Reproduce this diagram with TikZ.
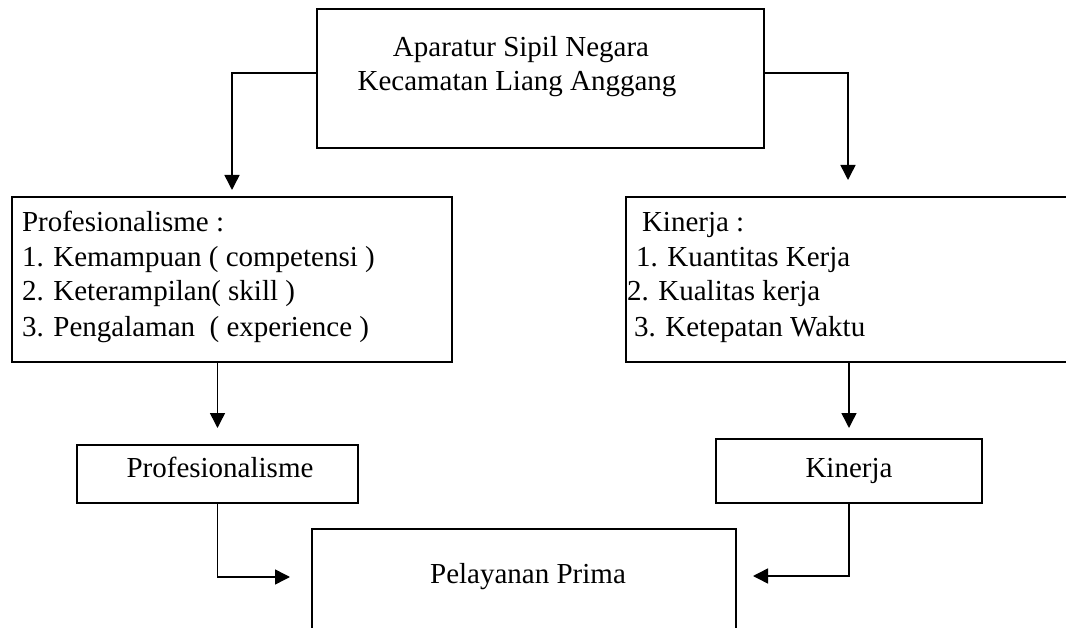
\documentclass[tikz,border=0pt]{standalone}
\usepackage{fontspec}
\setmainfont{Liberation Serif}
\usetikzlibrary{arrows.meta}
\begin{document}
\begin{tikzpicture}[x=1pt,y=-1pt,
  box/.style={draw,line width=1.6pt,inner sep=0pt,outer sep=0pt},
  txt/.style={inner sep=0pt,outer sep=0pt,font=\fontsize{29}{35}\selectfont},
  conn/.style={line width=1.5pt,-{Triangle[length=15pt,width=15pt]}}]
\useasboundingbox[fill=white] (0,0) rectangle (1066,628);
\clip (0,0) rectangle (1066,628);
% boxes
\node[box,minimum width=447pt,minimum height=139pt] (asn) at (540.5,78.5) {};
\node[box,minimum width=440pt,minimum height=165pt] (profl) at (232,279.5) {};
\node[box,minimum width=474pt,minimum height=165pt] (kinl) at (863,279.5) {};
\node[box,minimum width=281pt,minimum height=58pt] (profs) at (217.5,474) {};
\node[box,minimum width=266pt,minimum height=64pt] (kins) at (849,471) {};
\node[box,minimum width=424pt,minimum height=160pt] (pp) at (524,609) {};
% texts
\node[txt,anchor=base] (t1) at (521,57) {Aparatur Sipil Negara};
\node[txt,anchor=base] (t2) at (517,91) {Kecamatan Liang Anggang};
\node[txt,anchor=base west] (l1) at (22,232) {Profesionalisme :};
\node[txt,anchor=base west] (l2) at (22,267) {1. Kemampuan ( competensi )};
\node[txt,anchor=base west] (l3) at (22,301) {2. Keterampilan( skill )};
\node[txt,anchor=base west] (l4) at (22,337) {3. Pengalaman \ ( experience )};
\node[txt,anchor=base west] (r1) at (642,232) {Kinerja :};
\node[txt,anchor=base west] (r2) at (636,267) {1. Kuantitas Kerja};
\node[txt,anchor=base west] (r3) at (627,301) {2. Kualitas kerja};
\node[txt,anchor=base west] (r4) at (634,337) {3. Ketepatan Waktu};
\node[txt,anchor=base] (ps) at (220,477) {Profesionalisme};
\node[txt,anchor=base] (ks) at (849,477) {Kinerja};
\node[txt,anchor=base] (pt) at (528,583) {Pelayanan Prima};
% connector end points
\coordinate (lt) at (232,190);
\coordinate (rt) at (848,180);
\coordinate (pin) at ([xshift=-22pt]pp.west |- 0,577);
\coordinate (kin) at ([xshift=17pt]pp.east |- 0,576);
% connectors
\draw[conn] (asn.west |- 0,73) -| (lt);
\draw[conn] (asn.east |- 0,73) -| (rt);
\draw[conn] (profl.south -| profs.north) -- ([yshift=17pt]profs.north);
\draw[conn] (kinl.south -| kins.north) -- ([yshift=11pt]kins.north);
\draw[conn] (profs.south) |- (pin);
\draw[conn] (kins.south) |- (kin);
\end{tikzpicture}
\end{document}
